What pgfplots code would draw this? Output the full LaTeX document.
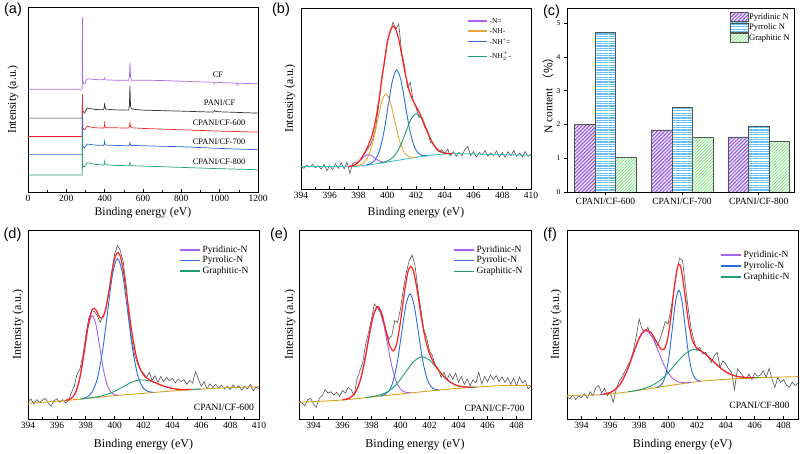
\documentclass[border=0pt]{standalone}
\usepackage{fontspec}
\setmainfont{Liberation Serif}
\newfontfamily\labfont{Liberation Sans}
\newfontfamily\cjk{Noto Sans CJK SC}
\usepackage{pgfplots}
\pgfplotsset{compat=1.18}
\usetikzlibrary{patterns.meta}
\definecolor{cP}{HTML}{A860F0}
\definecolor{cB}{HTML}{2A6FDB}
\definecolor{cG}{HTML}{1E9E76}
\definecolor{cR}{HTML}{FF2020}
\definecolor{cK}{HTML}{555555}
\definecolor{cY}{HTML}{D9A21B}
\definecolor{cO}{HTML}{E8A53A}
\definecolor{cC}{HTML}{3DC6C6}
\definecolor{aP}{HTML}{A66EEA}
\definecolor{aK}{HTML}{333333}
\definecolor{aR}{HTML}{F02828}
\definecolor{aB}{HTML}{2767D8}
\definecolor{aG}{HTML}{22A46C}
\definecolor{hP}{HTML}{8E55DB}
\definecolor{hPb}{HTML}{EDE3FA}
\definecolor{hB}{HTML}{62BEF2}
\definecolor{hG}{HTML}{8EE68E}
\definecolor{edge}{HTML}{555555}
\pgfplotsset{
  panel/.style={scale only axis, anchor=north west,
    /pgf/number format/assume math mode=true,
    /pgf/number format/1000 sep={},
    tick label style={font=\fontsize{9.5}{11}\selectfont},
    axis line style={line width=0.8pt},
    every tick/.style={black, line width=0.6pt},
    major tick length=3pt, minor tick length=2pt,
    tick align=inside, xtick pos=left, ytick pos=left},
  spec/.style={panel, ytick=\empty, minor x tick num=1,
    xlabel={Binding energy (eV)}, ylabel={Intensity (a.u.)}},
  raw/.style={cK, line width=0.6pt},
  comp/.style={smooth, line width=0.9pt},
  env/.style={smooth, cR, line width=1.2pt},
}
\tikzset{legtxt/.style={anchor=west, inner sep=0pt}, legln/.style={line width=1.2pt}}
\begin{document}
\begin{tikzpicture}
\path[use as bounding box] (0pt,0pt) rectangle (800pt,454pt);

% ---------------- (a)
\begin{axis}[spec, at={(28pt,447pt)}, width=230pt, height=185pt,
  xmin=0, xmax=1200, ymin=0, ymax=556, xtick={0,200,...,1200},
  label style={font=\fontsize{11.7}{14}\selectfont},
  xlabel style={at={(axis description cs:0.5,-0.114)}, anchor=center},
  ylabel style={at={(axis description cs:-0.065,0.5)}, anchor=center}]
\addplot[aP, line width=0.7pt] coordinates {(0,309) (281,309) (282.5,309) (284,525) (285.5,334) (290,326) (296,325) (305,338) (312,340) (350,338) (395,337) (400,343) (404,337) (450,336) (525,336) (529,345) (532,389) (535,345) (540,336) (600,336) (700,335) (800,333) (900,331) (968,330) (972,325) (978,330) (1000,329) (1088,327) (1092,321) (1096,327) (1200,325)};
\addplot[aK, line width=0.7pt] coordinates {(0,222) (281,222) (282.5,222) (284,290) (285.5,240) (290,241) (296,238) (306,250) (312,252) (350,248) (395,247) (398,255) (400,267) (402,255) (406,249) (450,247) (525,246) (529,260) (532,319) (535,258) (540,250) (560,248) (600,246) (800,243) (968,240) (972,245) (980,242) (1000,241) (1200,237)};
\addplot[aR, line width=0.7pt] coordinates {(0,167) (281,167) (282.5,167) (284,292) (285.5,188) (290,190) (296,187) (306,196) (312,197) (350,193) (395,192) (398,197) (400,207) (402,196) (406,193) (450,193) (525,192) (529,197) (532,208) (535,196) (540,193) (600,191) (800,187) (1000,183) (1200,180)};
\addplot[aB, line width=0.7pt] coordinates {(0,113) (281,113) (282.5,113) (284,230) (285.5,134) (290,136) (296,133) (306,142) (312,144) (350,141) (395,140) (398,145) (400,153) (402,144) (406,141) (450,140) (525,139) (529,142) (532,148) (535,141) (540,140) (600,139) (800,136) (1000,131) (1200,127)};
\addplot[aG, line width=0.7pt] coordinates {(0,51) (281,51) (282.5,51) (284,170) (285.5,74) (290,77) (296,76) (306,86) (312,88) (350,83) (395,81) (398,85) (400,92) (402,84) (406,82) (450,80) (525,79) (529,82) (532,89) (535,81) (540,79) (600,78) (800,74) (1000,70) (1200,67)};
\node[font=\fontsize{8.4}{10}\selectfont] at (axis cs:991,352) {CF};
\node[font=\fontsize{8.4}{10}\selectfont] at (axis cs:1000,267) {PANI/CF};
\node[font=\fontsize{8.4}{10}\selectfont] at (axis cs:997,207) {CPANI/CF-600};
\node[font=\fontsize{8.4}{10}\selectfont] at (axis cs:997,152) {CPANI/CF-700};
\node[font=\fontsize{8.4}{10}\selectfont] at (axis cs:997,92) {CPANI/CF-800};
\end{axis}

% ---------------- (b)
\begin{axis}[spec, at={(301pt,446pt)}, width=230pt, height=181pt,
  xmin=394, xmax=410, ymin=0, ymax=543, xtick={394,396,...,410},
  label style={font=\fontsize{11.7}{14}\selectfont},
  xlabel style={at={(axis description cs:0.5,-0.133)}, anchor=center},
  ylabel style={at={(axis description cs:-0.048,0.5)}, anchor=center}]
\addplot[raw] coordinates {(394.0,68) (394.2,62) (394.4,72) (394.6,66) (394.8,74) (395.0,64) (395.2,70) (395.4,60) (395.6,73) (395.8,55) (396.0,70) (396.2,58) (396.4,75) (396.6,62) (396.8,78) (397.0,60) (397.2,80) (397.4,47) (397.6,76) (397.8,80) (398.0,82) (398.2,88) (398.4,105) (398.6,118) (398.8,130) (399.0,150) (399.2,185) (399.4,250) (399.6,330) (399.8,375) (400.0,445) (400.2,470) (400.4,500) (400.6,480) (400.8,495) (401.0,410) (401.2,370) (401.4,305) (401.6,320) (401.8,265) (402.0,245) (402.2,215) (402.4,215) (402.6,185) (402.8,175) (403.0,140) (403.2,135) (403.4,120) (403.6,112) (403.8,118) (404.0,105) (404.2,120) (404.4,100) (404.6,112) (404.8,98) (405.0,110) (405.2,100) (405.4,118) (405.6,128) (405.8,100) (406.0,112) (406.2,96) (406.4,110) (406.6,102) (406.8,115) (407.0,98) (407.2,108) (407.4,100) (407.6,114) (407.8,96) (408.0,110) (408.2,95) (408.4,112) (408.6,100) (408.8,116) (409.0,98) (409.2,108) (409.4,96) (409.6,112) (409.8,98) (410.0,104)};
\addplot[comp, cC] coordinates {(394,67) (397.5,67) (398,69) (399,74) (400,81) (401,88) (402,95) (403,101) (404,105) (405,106) (406,105) (408,103) (410,101)};
\addplot[comp, cP] coordinates {(397.3,67.3) (397.525,68.4) (397.75,72.2) (397.975,79.1) (398.2,88.8) (398.425,98.5) (398.65,103.3) (398.875,100.8) (399.1,93.5) (399.325,86.4) (399.55,82.1) (399.775,80.8) (400.0,81.3)};
\addplot[comp, cO] coordinates {(397.8,68.7) (398.1,71.8) (398.4,80.0) (398.7,100.2) (399.0,140.6) (399.3,200.4) (399.6,259.1) (399.9,285.3) (400.2,263.3) (400.5,208.8) (400.8,153.2) (401.1,116.4) (401.4,99.8) (401.7,95.2) (402.0,95.5)};
\addplot[comp, cB] coordinates {(398.55,72.4) (398.85,76.2) (399.15,87.0) (399.45,113.9) (399.75,167.3) (400.05,245.8) (400.35,322.7) (400.65,356.6) (400.95,326.9) (401.25,254.2) (401.55,179.9) (401.85,130.7) (402.15,107.8) (402.45,100.7) (402.75,100.1)};
\addplot[comp, cG] coordinates {(399.48,77.7) (399.84,81.3) (400.2,88.2) (400.56,102.6) (400.92,129.9) (401.28,169.4) (401.64,208.1) (402.0,226) (402.36,212.8) (402.72,178.8) (403.08,143.8) (403.44,120.5) (403.8,110.0) (404.16,106.6) (404.52,105.8)};
\addplot[env] coordinates {(397.3,67.3) (397.7,71.4) (398.0,81.3) (398.3,99.4) (398.6,123.2) (398.9,155.1) (399.15,197.5) (399.4,260.6) (399.6,321.5) (399.8,383.5) (400.0,437.0) (400.2,473.6) (400.4,488.4) (400.6,478.8) (400.8,448.4) (401.0,404.6) (401.2,357.6) (401.4,316.5) (401.6,285.6) (401.8,264.1) (402.0,248.1) (402.25,227.7) (402.5,203.3) (402.8,170.8) (403.1,142.4) (403.4,122.4) (403.7,111.9) (404.1,106.9) (404.5,105.7)};
\begin{scope}[font=\fontsize{7.5}{9}\selectfont]
\draw[cP, legln] (axis description cs:0.726,0.928) -- ++(19pt,0pt) node[legtxt, black, xshift=2pt] {-N=};
\draw[cO, legln] (axis description cs:0.726,0.873) -- ++(19pt,0pt) node[legtxt, black, xshift=2pt] {-NH-};
\draw[cB, legln] (axis description cs:0.726,0.814) -- ++(19pt,0pt) node[legtxt, black, xshift=2pt] {-NH\textsuperscript{+}=};
\draw[cG, legln] (axis description cs:0.726,0.734) -- ++(19pt,0pt) node[legtxt, black, xshift=2pt] {-NH$_2^+$-};
\end{scope}
\end{axis}

% ---------------- (c)
\begin{axis}[panel, at={(567pt,446pt)}, width=227pt, height=184pt,
  ybar=0pt, bar width=0.268,
  xmin=-0.5, xmax=2.46, ymin=0, ymax=5.45,
  xtick={0,1,2}, xticklabels={CPANI/CF-600,CPANI/CF-700,CPANI/CF-800},
  ytick={0,1,2,3,4,5}, tick align=outside,
  x tick label style={font=\fontsize{9.5}{11}\selectfont},
  y tick label style={font=\fontsize{7.5}{9}\selectfont},
  ylabel={N content {\cjk （\%）}},
  ylabel style={at={(axis description cs:-0.084,0.54)}, anchor=center, font=\fontsize{11.5}{14}\selectfont},
  legend cell align=left,
  legend style={draw=none, fill=none, at={(axis description cs:0.716,0.978)}, anchor=north west,
    font=\fontsize{8.6}{10}\selectfont, row sep=1pt, inner sep=0pt, nodes={inner sep=0.8pt}},
  legend image code/.code={\draw[#1] (0pt,-4.5pt) rectangle (18pt,4.5pt);}]
\addplot[draw=edge, line width=0.5pt, fill=hPb, postaction={pattern={Lines[angle=45,distance=2.6pt,line width=1pt]}, pattern color=hP}] coordinates {(0,2.01) (1,1.84) (2,1.63)};
\addlegendentry{Pyridinic N}
\addplot[draw=edge, line width=0.5pt, fill=white, postaction={pattern={Lines[angle=0,distance=2.4pt,line width=1.1pt]}, pattern color=hB}] coordinates {(0,4.73) (1,2.51) (2,1.94)};
\addlegendentry{Pyrrolic N}
\addplot[draw=edge, line width=0.5pt, fill=white, postaction={pattern={Lines[angle=45,distance=2.2pt,line width=0.9pt]}, pattern color=hG}] coordinates {(0,1.02) (1,1.62) (2,1.49)};
\addlegendentry{Graphitic N}
\end{axis}

% ---------------- (d)
\begin{axis}[spec, at={(28pt,224pt)}, width=231pt, height=189pt,
  xmin=394, xmax=410, ymin=0, ymax=567, xtick={394,396,...,410},
  label style={font=\fontsize{12}{14}\selectfont},
  xlabel style={at={(axis description cs:0.5,-0.138)}, anchor=center},
  ylabel style={at={(axis description cs:-0.043,0.5)}, anchor=center}]
\addplot[raw] coordinates {(394.0,52) (394.2,60) (394.4,45) (394.6,58) (394.8,50) (395.0,56) (395.2,62) (395.4,48) (395.6,38) (395.8,55) (396.0,60) (396.2,50) (396.4,58) (396.6,48) (396.8,55) (397.0,78) (397.2,98) (397.4,135) (397.6,150) (397.8,190) (398.0,250) (398.2,300) (398.4,325) (398.6,322) (398.8,310) (399.0,290) (399.2,310) (399.4,330) (399.6,380) (399.8,440) (400.0,495) (400.2,520) (400.4,505) (400.6,470) (400.8,400) (401.0,300) (401.2,235) (401.4,190) (401.6,165) (401.8,145) (402.0,138) (402.2,125) (402.4,140) (402.6,115) (402.8,130) (403.0,110) (403.2,128) (403.4,112) (403.6,125) (403.8,115) (404.0,122) (404.2,108) (404.4,120) (404.6,112) (404.8,118) (405.0,104) (405.2,116) (405.4,108) (405.6,142) (405.8,120) (406.0,98) (406.2,112) (406.4,90) (406.6,106) (406.8,95) (407.0,104) (407.2,92) (407.4,102) (407.6,90) (407.8,98) (408.0,88) (408.2,102) (408.4,92) (408.6,100) (408.8,86) (409.0,98) (409.2,90) (409.4,104) (409.6,84) (409.8,96) (410.0,90)};
\addplot[comp, cY] coordinates {(394,47) (397,57) (400,70) (402,77) (404,84) (406,90) (408,94) (410,97)};
\addplot[comp, cP] coordinates {(396.63,56.3) (396.89,59.3) (397.15,68.5) (397.41,92.2) (397.67,140.1) (397.93,210.8) (398.19,280.1) (398.45,310.3) (398.71,282.4) (398.97,215.3) (399.23,146.9) (399.49,101.2) (399.75,79.7) (400.01,72.7) (400.27,71.4)};
\addplot[comp, cB] coordinates {(397.75,61.1) (398.1,66.4) (398.45,81.3) (398.8,120.4) (399.15,199.8) (399.5,317.1) (399.85,432.1) (400.2,481.7) (400.55,434.6) (400.9,322.5) (401.25,207.9) (401.6,131.2) (401.95,94.8) (402.3,82.7) (402.65,80.2)};
\addplot[comp, cG] coordinates {(397.6,59.7) (398.2,62.7) (398.8,66.6) (399.4,72.9) (400.0,83.3) (400.6,97.0) (401.2,110.4) (401.8,117.3) (402.4,114.6) (403.0,105.4) (403.6,95.9) (404.2,90.1) (404.8,88.2) (405.4,88.7) (406.0,90.1)};
\addplot[env] coordinates {(396.6,56.1) (397.0,62.0) (397.3,79.7) (397.6,125.0) (397.9,204.2) (398.15,277.0) (398.45,329.1) (398.7,327.4) (398.95,306.8) (399.15,303.2) (399.35,324.2) (399.6,382.0) (399.85,449.6) (400.05,488.1) (400.25,499.3) (400.45,479.0) (400.7,417.9) (400.95,336.7) (401.2,258.5) (401.45,197.8) (401.7,158.3) (402.0,132.5) (402.3,120.3) (402.7,111.1) (403.2,101.9) (403.8,93.5) (404.5,88.8) (405.3,88.5)};
\node[anchor=east, font=\fontsize{9.6}{11}\selectfont] at (rel axis cs:0.993,0.063) {CPANI/CF-600};
\begin{scope}[font=\fontsize{9.5}{11}\selectfont]
\draw[cP, legln] (axis description cs:0.658,0.894) -- ++(20pt,0pt) node[legtxt, black, xshift=2pt] {Pyridinic-N};
\draw[cB, legln] (axis description cs:0.658,0.839) -- ++(20pt,0pt) node[legtxt, black, xshift=2pt] {Pyrrolic-N};
\draw[cG, legln] (axis description cs:0.658,0.783) -- ++(20pt,0pt) node[legtxt, black, xshift=2pt] {Graphitic-N};
\end{scope}
\end{axis}

% ---------------- (e)
\begin{axis}[spec, at={(299pt,224pt)}, width=232pt, height=189pt,
  xmin=393, xmax=409, ymin=0, ymax=567, xtick={394,396,...,408},
  label style={font=\fontsize{12}{14}\selectfont},
  xlabel style={at={(axis description cs:0.5,-0.138)}, anchor=center},
  ylabel style={at={(axis description cs:-0.039,0.5)}, anchor=center}]
\addplot[raw] coordinates {(393.0,55) (393.2,48) (393.4,40) (393.6,58) (393.8,62) (394.0,45) (394.2,35) (394.4,62) (394.6,70) (394.8,88) (395.0,78) (395.2,82) (395.4,72) (395.6,80) (395.8,68) (396.0,85) (396.2,78) (396.4,95) (396.6,88) (396.8,70) (397.0,120) (397.2,145) (397.4,170) (397.6,225) (397.8,260) (398.0,300) (398.2,345) (398.4,335) (398.6,320) (398.8,290) (399.0,265) (399.2,240) (399.4,250) (399.6,295) (399.8,290) (400.0,330) (400.2,390) (400.4,440) (400.6,475) (400.8,492) (401.0,460) (401.2,390) (401.4,330) (401.6,270) (401.8,245) (402.0,205) (402.2,190) (402.4,160) (402.6,150) (402.8,125) (403.0,140) (403.2,118) (403.4,135) (403.6,120) (403.8,138) (404.0,110) (404.2,128) (404.4,104) (404.6,120) (404.8,100) (405.0,118) (405.2,108) (405.4,140) (405.6,105) (405.8,128) (406.0,112) (406.2,132) (406.4,118) (406.6,130) (406.8,112) (407.0,126) (407.2,110) (407.4,124) (407.6,104) (407.8,122) (408.0,100) (408.2,126) (408.4,108) (408.6,115) (408.8,90) (409.0,100)};
\addplot[comp, cY] coordinates {(393,50) (396,57) (398,66) (400,75) (402,84) (404,92) (406,98) (407,100) (409,100)};
\addplot[comp, cP] coordinates {(396.10,58.0) (396.43,61.9) (396.76,72.1) (397.09,98.0) (397.42,150.1) (397.75,226.8) (398.08,302.0) (398.41,334.8) (398.74,304.9) (399.07,232.7) (399.40,159.0) (399.73,109.9) (400.06,87.0) (400.39,79.8) (400.72,78.8)};
\addplot[comp, cB] coordinates {(398.62,69.4) (398.91,73.4) (399.2,84.4) (399.49,112.9) (399.78,170.4) (400.07,255.4) (400.36,338.7) (400.65,374.9) (400.94,341.3) (401.23,260.6) (401.52,178.2) (401.81,123.3) (402.1,97.4) (402.39,88.9) (402.68,87.4)};
\addplot[comp, cG] coordinates {(397.6,64.4) (398.15,67.9) (398.7,73.8) (399.25,85.8) (399.8,108.2) (400.35,140.3) (400.9,171.8) (401.45,186.5) (402.0,176.7) (402.55,149.9) (403.1,122.5) (403.65,104.8) (404.2,97.2) (404.75,95.4) (405.3,96.1)};
\addplot[env] coordinates {(396.0,57.3) (396.5,63.4) (396.9,80.5) (397.2,112.3) (397.5,167.2) (397.8,239.7) (398.1,306.7) (398.4,337.3) (398.7,317.2) (399.0,263.4) (399.25,220.7) (399.5,204.5) (399.75,228.8) (400.0,292.3) (400.25,373.5) (400.5,438.5) (400.7,458.0) (400.9,442.4) (401.15,386.3) (401.4,314.9) (401.65,252.9) (401.9,209.3) (402.2,176.4) (402.5,154.3) (402.9,131.8) (403.3,114.8) (403.8,101.9) (404.4,96.1) (405.0,95.6)};
\node[anchor=east, font=\fontsize{9.6}{11}\selectfont] at (rel axis cs:0.987,0.058) {CPANI/CF-700};
\begin{scope}[font=\fontsize{9.5}{11}\selectfont]
\draw[cP, legln] (axis description cs:0.668,0.894) -- ++(20pt,0pt) node[legtxt, black, xshift=2pt] {Pyridinic-N};
\draw[cB, legln] (axis description cs:0.668,0.838) -- ++(20pt,0pt) node[legtxt, black, xshift=2pt] {Pyrrolic-N};
\draw[cG, legln] (axis description cs:0.668,0.781) -- ++(20pt,0pt) node[legtxt, black, xshift=2pt] {Graphitic-N};
\end{scope}
\end{axis}

% ---------------- (f)
\begin{axis}[spec, at={(567pt,224pt)}, width=231pt, height=189pt,
  xmin=393, xmax=409, ymin=0, ymax=567, xtick={394,396,...,408},
  label style={font=\fontsize{12}{14}\selectfont},
  xlabel style={at={(axis description cs:0.5,-0.138)}, anchor=center},
  ylabel style={at={(axis description cs:-0.048,0.5)}, anchor=center}]
\addplot[raw] coordinates {(393.0,68) (393.2,60) (393.4,72) (393.6,58) (393.8,70) (394.0,64) (394.2,76) (394.4,62) (394.6,82) (394.8,70) (395.0,95) (395.2,100) (395.4,78) (395.6,92) (395.8,70) (396.0,80) (396.2,50) (396.4,88) (396.6,112) (396.8,125) (397.0,142) (397.2,160) (397.4,175) (397.6,205) (397.8,250) (398.0,300) (398.2,270) (398.4,262) (398.6,275) (398.8,250) (399.0,245) (399.2,217) (399.4,235) (399.6,260) (399.8,292) (400.0,285) (400.2,330) (400.4,380) (400.6,445) (400.8,482) (401.0,475) (401.2,400) (401.4,330) (401.6,270) (401.8,235) (402.0,205) (402.2,215) (402.4,195) (402.6,200) (402.8,185) (403.0,170) (403.2,190) (403.4,200) (403.6,155) (403.8,175) (404.0,165) (404.2,150) (404.4,140) (404.6,88) (404.8,150) (405.0,140) (405.2,128) (405.4,120) (405.6,135) (405.8,118) (406.0,138) (406.2,128) (406.4,132) (406.6,145) (406.8,125) (407.0,152) (407.2,120) (407.4,95) (407.6,125) (407.8,110) (408.0,118) (408.2,102) (408.4,95) (408.6,110) (408.8,100) (409.0,108)};
\addplot[comp, cY] coordinates {(393,71) (395,72) (396,75) (397,80) (398,86) (399,93) (400,100) (401,106) (402,112) (403,116) (404,119) (405,121.5) (406,123.5) (407,125) (409,127)};
\addplot[comp, cP] coordinates {(395.29,73.3) (395.74,76.1) (396.19,83.7) (396.64,101.9) (397.09,137.3) (397.54,189.3) (397.99,240.3) (398.44,264.1) (398.89,246.6) (399.34,201.5) (399.79,155.3) (400.24,125.1) (400.69,111.8) (401.14,108.7) (401.59,109.9)};
\addplot[comp, cB] coordinates {(399.2,95.0) (399.42,99.0) (399.64,109.9) (399.86,137.2) (400.08,192.1) (400.3,272.8) (400.52,352.0) (400.74,386.4) (400.96,354.7) (401.18,278.1) (401.4,200.0) (401.62,147.9) (401.84,123.4) (402.06,115.3) (402.28,113.7)};
\addplot[comp, cG] coordinates {(397.22,81.5) (397.87,86.3) (398.52,93.9) (399.17,107.5) (399.82,130.5) (400.47,162.2) (401.12,193.2) (401.77,208.6) (402.42,200.2) (403.07,175.6) (403.72,150.0) (404.37,133.2) (405.02,125.8) (405.67,123.9) (406.32,124.2)};
\addplot[env] coordinates {(395.5,74.3) (396.0,79.5) (396.4,90.4) (396.8,112.4) (397.2,149.1) (397.6,197.4) (398.0,242.8) (398.4,267.0) (398.8,260.3) (399.15,235.6) (399.45,213.1) (399.7,208.5) (399.95,235.6) (400.2,307.2) (400.45,402.6) (400.7,462.3) (400.9,451.9) (401.15,378.9) (401.4,294.9) (401.65,241.1) (401.9,217.6) (402.2,206.8) (402.6,194.3) (403.0,178.6) (403.5,157.9) (404.0,141.5) (404.6,129.7) (405.3,124.8) (406.0,124.0)};
\node[anchor=east, font=\fontsize{9.6}{11}\selectfont] at (rel axis cs:0.978,0.074) {CPANI/CF-800};
\begin{scope}[font=\fontsize{9.5}{11}\selectfont]
\draw[cP, legln] (axis description cs:0.667,0.868) -- ++(20pt,0pt) node[legtxt, black, xshift=2pt] {Pyridinic-N};
\draw[cB, legln] (axis description cs:0.667,0.810) -- ++(20pt,0pt) node[legtxt, black, xshift=2pt] {Pyrrolic-N};
\draw[cG, legln] (axis description cs:0.667,0.751) -- ++(20pt,0pt) node[legtxt, black, xshift=2pt] {Graphitic-N};
\end{scope}
\end{axis}

% panel letters
\node[font=\labfont\fontsize{14.5}{16}\selectfont] at (13pt,444pt) {(a)};
\node[font=\labfont\fontsize{14.5}{16}\selectfont] at (281pt,444pt) {(b)};
\node[font=\labfont\fontsize{14.5}{16}\selectfont] at (551.5pt,442.5pt) {(c)};
\node[font=\labfont\fontsize{14.5}{16}\selectfont] at (12.5pt,219pt) {(d)};
\node[font=\labfont\fontsize{14.5}{16}\selectfont] at (279pt,219pt) {(e)};
\node[font=\labfont\fontsize{14.5}{16}\selectfont] at (550pt,219pt) {(f)};
\end{tikzpicture}
\end{document}
